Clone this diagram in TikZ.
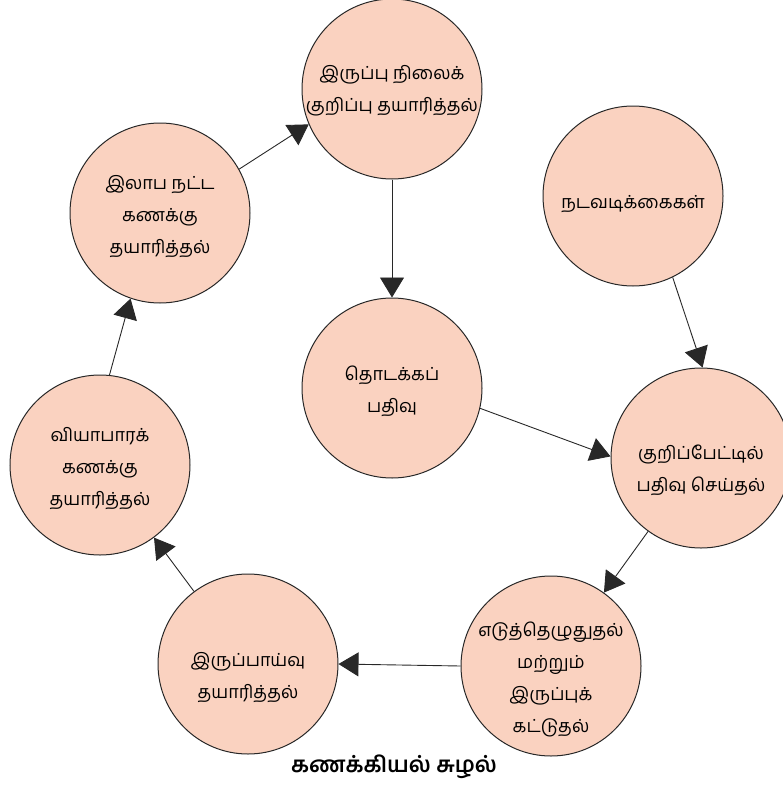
\documentclass[tikz,border=0pt]{standalone}
\usepackage{fontspec}
\newfontfamily\tamil[Script=Tamil]{Hind Madurai}
\usetikzlibrary{arrows.meta}
\definecolor{peach}{RGB}{250,210,192}
\definecolor{edge}{RGB}{40,40,40}
\newcommand{\lowtext}[2]{\raisebox{-#1}[\height][\depth]{\makebox[0pt]{\begin{tabular}{@{}c@{}}#2\end{tabular}}}}
\begin{document}
\begin{tikzpicture}[x=1pt,y=-1pt,
  stage/.style={circle,draw=edge,line width=1pt,fill=peach,minimum size=180pt,inner sep=0pt,align=center,font=\tamil\fontsize{18}{32}\selectfont},
  flow/.style={-{Triangle[length=20pt,width=24pt]},line width=0.9pt,draw=edge}]
\useasboundingbox (0,0) rectangle (783,787);
\node[stage] (bs) at (392,89) {\lowtext{0pt}{இருப்பு நிலைக்\\குறிப்பு தயாரித்தல்}};
\node[stage] (pl) at (160,213) {\lowtext{2pt}{இலாப நட்ட\\கணக்கு\\தயாரித்தல்}};
\node[stage] (tx) at (633,196) {\lowtext{6pt}{நடவடிக்கைகள்}};
\node[stage] (op) at (392,388) {\lowtext{2pt}{தொடக்கப்\\பதிவு}};
\node[stage] (jr) at (701,458) {\lowtext{11pt}{குறிப்பேட்டில்\\பதிவு செய்தல்}};
\node[stage] (tr) at (100,465) {\lowtext{2pt}{வியாபாரக்\\கணக்கு\\தயாரித்தல்}};
\node[stage] (tb) at (248,664) {\lowtext{12pt}{இருப்பாய்வு\\தயாரித்தல்}};
\node[stage] (lg) at (551,666) {\lowtext{12pt}{எடுத்தெழுதுதல்\\மற்றும்\\இருப்புக்\\கட்டுதல்}};
\node[font=\tamil\bfseries\fontsize{22}{26}\selectfont] (title) at (394,767) {கணக்கியல் சுழல்};
\draw[flow] (pl.29) -- (bs.203);
\draw[flow] (bs.south) -- (op.north);
\draw[flow] (tx.-64) -- (jr.89);
\draw[flow] (op.-13) -- (jr.179);
\draw[flow] (jr) -- (lg);
\draw[flow] (lg.west) -- (tb.east);
\draw[flow] (tb) -- (tr);
\draw[flow] (tr.84) -- (pl.-109);
\end{tikzpicture}
\end{document}
